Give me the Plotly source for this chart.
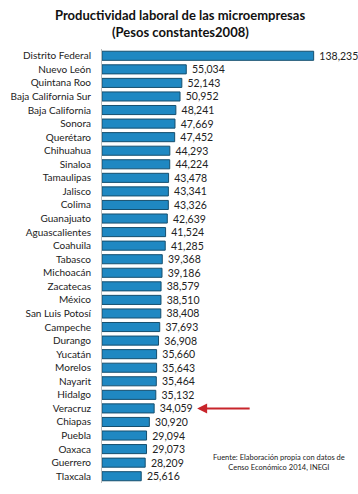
import plotly.graph_objects as go

estados = ["Distrito Federal", "Nuevo León", "Quintana Roo", "Baja California Sur",
           "Baja California", "Sonora", "Querétaro", "Chihuahua", "Sinaloa",
           "Tamaulipas", "Jalisco", "Colima", "Guanajuato", "Aguascalientes",
           "Coahuila", "Tabasco", "Michoacán", "Zacatecas", "México",
           "San Luis Potosí", "Campeche", "Durango", "Yucatán", "Morelos",
           "Nayarit", "Hidalgo", "Veracruz", "Chiapas", "Puebla", "Oaxaca",
           "Guerrero", "Tlaxcala"]
productividad = [138235, 55034, 52143, 50952, 48241, 47669, 47452, 44293, 44224,
                 43478, 43341, 43326, 42639, 41524, 41285, 39368, 39186, 38579,
                 38510, 38408, 37693, 36908, 35660, 35643, 35464, 35132, 34059,
                 30920, 29094, 29073, 28209, 25616]

titulo1 = "<b>Productividad laboral de las microempresas</b>"
titulo2 = "<b>(Pesos constantes2008)</b>"
fuente = "Fuente: Elaboración propia con datos de<br>Censo Económico 2014, INEGI"
destacado = "Veracruz"

L, R, T, B = 102, 11, 49, 11
W, H = 358, 494
PW, PH = W - L - R, H - T - B

def px_x(p):
    return (p - L) / PW

def px_y(p):
    return (H - B - p) / PH

fig = go.Figure()
fig.add_trace(go.Bar(
    x=productividad, y=estados, orientation="h",
    marker=dict(color="#1f88c2", line=dict(color="#164f6e", width=1)),
    text=["\u00a0" + f"{v:,}" for v in productividad],
    textposition="outside",
    constraintext="none",
    textfont=dict(family="Lato", size=10.5, color="#222222"),
    cliponaxis=False,
    hoverinfo="skip",
))

idx = estados.index(destacado)
fig.add_annotation(
    x=productividad[idx], y=destacado, xref="x", yref="y",
    xshift=43, ax=54, ay=0, text="", showarrow=True,
    arrowhead=2, arrowsize=1, arrowwidth=2, arrowcolor="#c8252b",
)
fig.add_annotation(
    x=px_x(279), y=px_y(462), xref="paper", yref="paper", text=fuente,
    showarrow=False, xanchor="center", yanchor="middle",
    font=dict(family="Lato", size=7.5, color="#222222"), align="center",
)
for txt, yy in [(titulo1, 15), (titulo2, 32)]:
    fig.add_annotation(
        x=px_x(180), y=px_y(yy), xref="paper", yref="paper", text=txt,
        showarrow=False, xanchor="center", yanchor="middle",
        font=dict(family="Lato", size=13, color="#111111"),
    )

fig.update_layout(
    width=W, height=H,
    margin=dict(l=L, r=R, t=T, b=B),
    paper_bgcolor="white", plot_bgcolor="white",
    bargap=0.33,
    showlegend=False,
    font=dict(family="Lato", size=10, color="#222222"),
)
fig.update_xaxes(range=[0, 160000], visible=False)
fig.update_yaxes(autorange="reversed", showline=True, linecolor="#bbbbbb",
                 linewidth=1, ticks="", ticklabelstandoff=8, automargin=False,
                 tickfont=dict(family="Lato", size=10, color="#222222"))

fig.write_html("out.html", config={"displayModeBar": False},
               post_script="document.body.style.margin='0';document.body.style.overflow='hidden';")
